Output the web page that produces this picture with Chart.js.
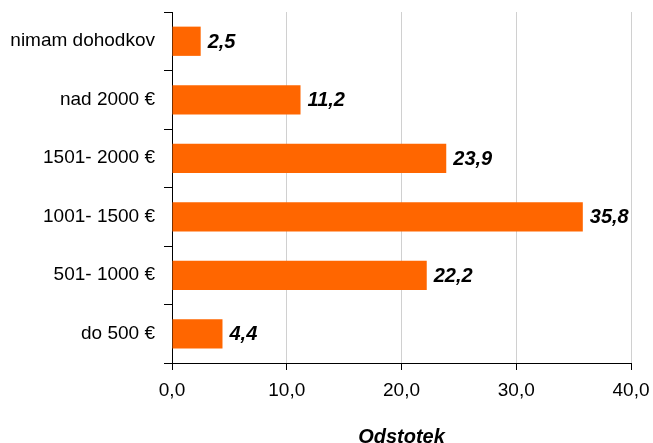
<!DOCTYPE html>
<html>
<head>
<meta charset="utf-8">
<script src="https://cdn.jsdelivr.net/npm/chart.js@4"></script>
<style>
  html, body { margin: 0; padding: 0; background: #fff; }
  #wrap { width: 653px; height: 443px; }
</style>
</head>
<body>
<div id="wrap"><canvas id="c" width="653" height="443"></canvas></div>
<script>
const categories = ['nimam dohodkov', 'nad 2000 €', '1501- 2000 €', '1001- 1500 €', '501- 1000 €', 'do 500 €'];
const shares = [2.5, 11.2, 23.9, 35.8, 22.2, 4.4];
const xTicks = [0, 10, 20, 30, 40];
const axisTitle = 'Odstotek';

const FONT = '"Liberation Sans", Arial, Helvetica, sans-serif';
const fmt = v => v.toFixed(1).replace('.', ',');

// value written just past the end of each bar
const valueLabels = {
  id: 'valueLabels',
  afterDatasetsDraw(chart) {
    const ctx = chart.ctx;
    const meta = chart.getDatasetMeta(0);
    ctx.save();
    ctx.font = 'italic bold 20px ' + FONT;
    ctx.fillStyle = '#000';
    ctx.textAlign = 'left';
    ctx.textBaseline = 'middle';
    meta.data.forEach((bar, i) => {
      ctx.fillText(fmt(shares[i]), bar.x + 7, bar.y + 1);
    });
    ctx.restore();
  }
};

new Chart(document.getElementById('c'), {
  type: 'bar',
  data: {
    labels: categories,
    datasets: [{
      data: shares,
      backgroundColor: '#FF6600',
      borderWidth: 0,
      barPercentage: 0.5,
      categoryPercentage: 1
    }]
  },
  options: {
    indexAxis: 'y',
    responsive: false,
    animation: false,
    layout: { padding: { top: 12, right: 22, left: 0, bottom: 0 } },
    plugins: { legend: { display: false }, tooltip: { enabled: false } },
    scales: {
      x: {
        min: 0, max: 40,
        afterBuildTicks(axis) { axis.ticks = xTicks.map(v => ({ value: v })); },
        afterFit(axis) {
          axis.height = 80;
          axis.paddingLeft = 0;
          axis.paddingRight = 0;
        },
        ticks: {
          color: '#000',
          padding: 9,
          font: { family: FONT, size: 19 },
          callback: v => fmt(v)
        },
        grid: { color: '#d0d0d0', lineWidth: 1, tickLength: 7, tickColor: '#000' },
        border: { color: '#000', width: 1 },
        title: {
          display: true,
          text: axisTitle,
          color: '#000',
          padding: { top: 10, bottom: -6 },
          font: { family: FONT, size: 20, weight: 'bold', style: 'italic' }
        }
      },
      y: {
        afterFit(axis) {
          axis.width = 172;
          axis.paddingTop = 0;
          axis.paddingBottom = 0;
        },
        ticks: {
          color: '#000',
          padding: 9,
          font: { family: FONT, size: 19 }
        },
        grid: { offset: true, drawOnChartArea: false, tickLength: 8, color: '#000' },
        border: { color: '#000', width: 1 }
      }
    }
  },
  plugins: [valueLabels]
});
</script>
</body>
</html>
